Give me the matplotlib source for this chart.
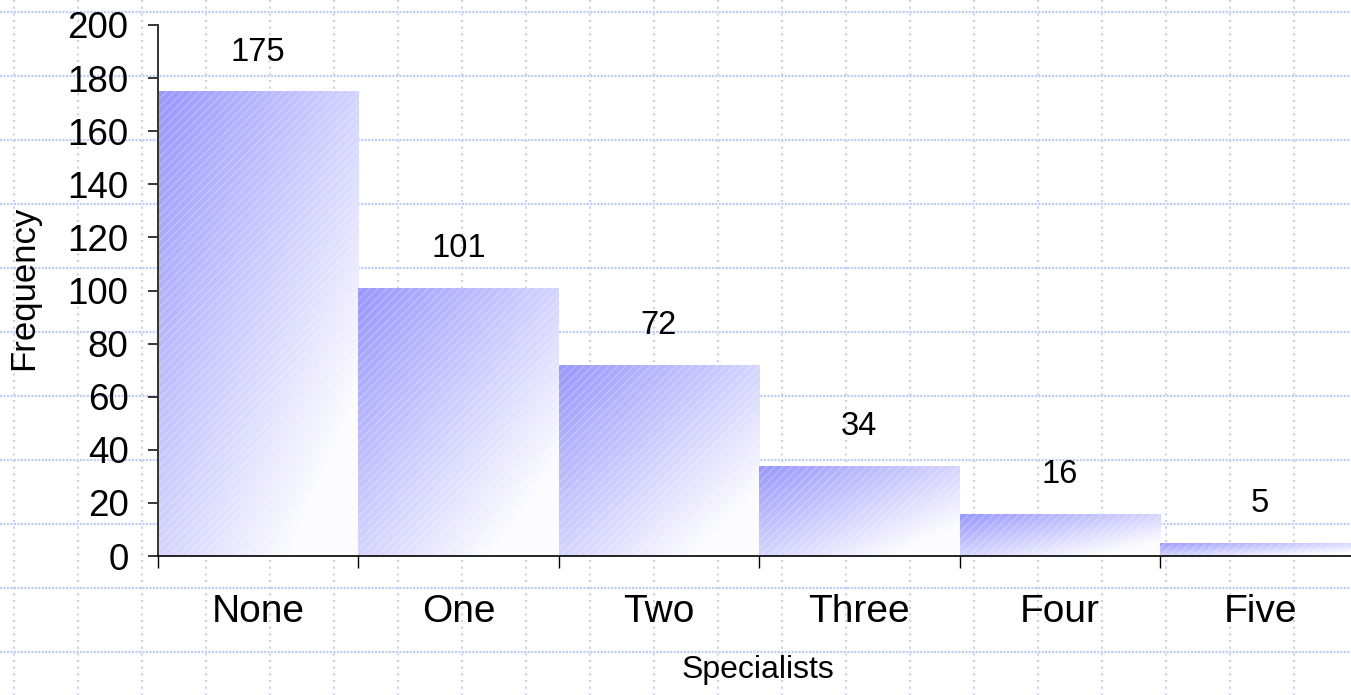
import matplotlib
matplotlib.use('Agg')
import matplotlib.pyplot as plt
from matplotlib.lines import Line2D
from matplotlib.patches import Rectangle
import numpy as np

plt.rcParams['font.family'] = ['Liberation Sans', 'DejaVu Sans']
plt.rcParams['lines.scale_dashes'] = False

categories = ['None', 'One', 'Two', 'Three', 'Four', 'Five']
frequency = [175, 101, 72, 34, 16, 5]
yticks = [0, 20, 40, 60, 80, 100, 120, 140, 160, 180, 200]

W, H = 1351, 695
fig = plt.figure(figsize=(W / 100, H / 100), dpi=100)

# dotted slide background grid, in pixel coordinates
bg = fig.add_axes([0, 0, 1, 1], zorder=-10)
bg.set_xlim(0, W)
bg.set_ylim(H, 0)
bg.axis('off')
for y in range(12, H, 64):
    bg.add_line(Line2D([0, W], [y, y], color='#bfcbf3', lw=1.6,
                       linestyle=(0, (1.5, 1.0))))
for x in range(14, W, 64):
    bg.add_line(Line2D([x, x], [0, H], color='#c6d1f4', lw=1.6,
                       linestyle=(0, (1.5, 3.3))))

ax = fig.add_axes([158 / W, (H - 556) / H, 1202.4 / W, 531 / H])
ax.patch.set_alpha(0)

# gradient bars: dark blue at top-left fading to white at bottom-right
n = 200
u = np.linspace(0, 1, n)
gx, gy = np.meshgrid(u, u)          # row 0 drawn at the top (origin='upper')
t = np.clip((gx + gy) / 2 * 1.2, 0, 1)
dark = np.array([0.59, 0.59, 1.0])
light = np.array([0.99, 0.99, 1.0])
grad = dark[None, None, :] * (1 - t[..., None]) + light[None, None, :] * t[..., None]

bars = ax.bar(np.arange(len(categories)), frequency, width=1.0, align='edge',
              color='none', edgecolor='none')
for i, v in enumerate(frequency):
    im = ax.imshow(grad, extent=[i, i + 1, 0, v], origin='upper',
                   aspect='auto', zorder=1, interpolation='bilinear')
    clip = Rectangle((i, 0), 1, v, transform=ax.transData, facecolor='none')
    im.set_clip_path(clip)
    ax.add_patch(Rectangle((i, 0), 1, v, facecolor='none', edgecolor=(1, 1, 1, 0.25),
                           hatch='////', lw=0, zorder=2))
    ax.annotate(str(v), xy=(i + 0.5, v), xytext=(0, 28), textcoords='offset points',
                ha='center', va='center', fontsize=23.5)
ax.set_xlim(0, len(categories))
ax.set_ylim(0, 200)

for s in ['top', 'right']:
    ax.spines[s].set_visible(False)
ax.spines['left'].set_color('#333333')
ax.spines['left'].set_linewidth(1.4)
ax.spines['bottom'].set_linewidth(1.2)
ax.spines['left'].set_zorder(3)
ax.spines['bottom'].set_zorder(3)

ax.set_yticks(yticks)
ax.tick_params(axis='y', direction='out', length=7.2, width=1.1, pad=14, labelsize=26.5)
ax.set_xticks(np.arange(len(categories) + 1))
ax.set_xticklabels([])
ax.tick_params(axis='x', which='major', direction='out', length=8.6, width=1.0)
ax.set_xticks(np.arange(len(categories)) + 0.5, minor=True)
ax.set_xticklabels(categories, minor=True)
ax.tick_params(axis='x', which='minor', length=0, pad=27, labelsize=28)

ax.set_xlabel('Specialists', fontsize=23)
ax.xaxis.set_label_coords(758 / W, 1 - 655 / H, transform=fig.transFigure)
ax.set_ylabel('Frequency', fontsize=25)
ax.yaxis.set_label_coords(40 / W, 1 - 288 / H, transform=fig.transFigure)

fig.savefig('out.png', dpi=100)
